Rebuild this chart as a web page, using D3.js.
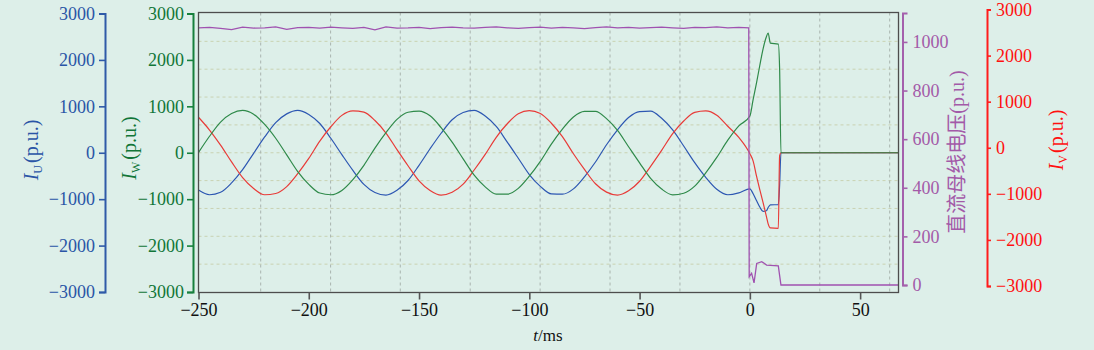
<!DOCTYPE html>
<html>
<head>
<meta charset="utf-8">
<script src="https://cdn.jsdelivr.net/npm/d3@7"></script>
<style>
    body { margin: 0; background: #ddefe9; }
    svg { display: block; }
    text { font-family: "Liberation Serif", "Times New Roman", "Noto Sans CJK SC", serif; }
</style>
</head>
<body>
<div id="chart"></div>
<script>
// one sample every 5 ms up to the fault at t = 0
const timeMs = [-250, -245, -240, -235, -230, -225, -220, -215, -210, -205, -200, -195, -190, -185, -180, -175, -170,
    -165, -160, -155, -150, -145, -140, -135, -130, -125, -120, -115, -110, -105, -100, -95, -90, -85, -80, -75, -70,
    -65, -60, -55, -50, -45, -40, -35, -30, -25, -20, -15, -10, -5, 0];

const iU = [-805, -905, -852, -650, -365, -12, 340, 650, 838, 915, 826, 630, 312, -40, -380, -682, -856, -912, -808,
    -598, -270, 86, 420, 710, 868, 912, 790, 566, 230, -118, -470, -725, -888, -893, -778, -518, -200, 172, 495, 760,
    888, 898, 742, 492, 145, -214, -530, -786, -905, -865, -777];

const iV = [765, 490, 165, -198, -535, -770, -905, -878, -730, -450, -122, 250, 560, 805, 902, 875, 694, 425, 66, -280,
    -605, -812, -912, -852, -676, -372, -35, 333, 625, 840, 906, 846, 636, 346, -22, -360, -668, -848, -912, -820,
    -614, -292, 52, 412, 684, 870, 902, 808, 570, 330, -20];

const iW = [5, 355, 660, 845, 912, 830, 610, 312, -45, -405, -680, -868, -905, -812, -578, -270, 100, 432, 718, 872,
    896, 795, 541, 228, -132, -482, -735, -892, -893, -768, -506, -186, 186, 508, 770, 890, 892, 735, 480, 130, -218,
    -552, -782, -908, -872, -718, -432, -100, 270, 578, 790];

// after the fault
const faultTime = [1.5, 3, 4.5, 6, 7.5, 8.3, 9.3, 12.9, 13.5, 14.1, 67.4];
const faultU = [-885, -1030, -1170, -1265, -1250, -1180, -1125, -1116, -700, 0, 0];
const faultV = [-180, -500, -795, -1075, -1370, -1533, -1620, -1628, -60, 0, 0];
const faultW = [1150, 1500, 1880, 2240, 2500, 2580, 2360, 2340, 1800, 0, 0];

// DC bus voltage, -250 .. -5 ms, then the collapse
const dcBus = [1058, 1060, 1056, 1051, 1061, 1057, 1058, 1062, 1052, 1059, 1060, 1057, 1061, 1058, 1056, 1060, 1050,
    1062, 1057, 1058, 1060, 1055, 1059, 1061, 1058, 1057, 1060, 1062, 1058, 1056, 1059, 1061, 1057, 1060, 1058, 1055,
    1059, 1062, 1058, 1060, 1057, 1059, 1061, 1058, 1056, 1060, 1059, 1062, 1058, 1060];
const dcFaultTime = [-0.5, -0.3, 0.8, 1.9, 3.1, 5.4, 7.6, 12.9, 14.1, 67.4];
const dcFault = [1058, 34, 48, 9, 89, 96, 82, 79, 0, 0];

const xTicks = [-250, -200, -150, -100, -50, 0, 50];
const currentTicks = [-3000, -2000, -1000, 0, 1000, 2000, 3000];
const dcTicks = [0, 200, 400, 600, 800, 1000];
const gridTimes = [-221.8, -190.1, -158.5, -126.8, -95.1, -63.4, -31.7, 0, 31.7, 63.4];
const gridLevels = [-2400, -1800, -1200, -600, 0, 600, 1200, 1800, 2400];

function main() {
    let width = 1094;
    let height = 350;
    let plot = {left: 198.5, right: 898.5, top: 12.5, bottom: 292.5};
    let fmt = d3.format("d");

    let svg = d3.select("#chart").append("svg")
        .attr("width", width)
        .attr("height", height);

    svg.append("rect")
        .attr("width", width)
        .attr("height", height)
        .attr("fill", "#ddefe9");

    let xScale = d3.scaleLinear().domain([-250, 67.4]).range([plot.left, plot.right]);
    let yCur = d3.scaleLinear().domain([-3000, 3000]).range([292, 13.5]);
    let yRed = d3.scaleLinear().domain([-3000, 3000]).range([286, 9.5]);
    let yDc = d3.scaleLinear().domain([0, 1119]).range([285, 13]);

    // grid
    svg.append("g").selectAll("line")
        .data(gridLevels)
        .enter()
        .append("line")
        .attr("x1", plot.left)
        .attr("x2", plot.right)
        .attr("y1", d => yCur(d))
        .attr("y2", d => yCur(d))
        .attr("stroke", "#c9d2b2")
        .attr("stroke-dasharray", "3,3");

    svg.append("g").selectAll("line")
        .data(gridTimes)
        .enter()
        .append("line")
        .attr("x1", d => xScale(d))
        .attr("x2", d => xScale(d))
        .attr("y1", plot.top)
        .attr("y2", plot.bottom)
        .attr("stroke", "#a9b4af")
        .attr("stroke-dasharray", "3,3");

    svg.append("clipPath")
        .attr("id", "clip")
        .append("rect")
        .attr("x", plot.left)
        .attr("y", plot.top)
        .attr("width", plot.right - plot.left)
        .attr("height", plot.bottom - plot.top);

    let lines = svg.append("g").attr("clip-path", "url(#clip)");

    function phase(pre, fault) {
        return pre.map((v, i) => [timeMs[i], v])
            .concat(fault.map((v, i) => [faultTime[i], v]));
    }

    let curLine = d3.line()
        .x(d => xScale(d[0]))
        .y(d => yCur(d[1]))
        .curve(d3.curveMonotoneX);

    let series = [
        {pts: phase(iU, faultU), color: "#2d57b2"},
        {pts: phase(iV, faultV), color: "#e83b38"},
        {pts: phase(iW, faultW), color: "#2f8a4a"}
    ];

    series.forEach(function(s) {
        lines.append("path")
            .attr("d", curLine(s.pts))
            .attr("fill", "none")
            .attr("stroke", s.color)
            .attr("stroke-width", 1.2);
    });

    let dcPts = dcBus.map((v, i) => [timeMs[i], v])
        .concat(dcFault.map((v, i) => [dcFaultTime[i], v]));

    lines.append("path")
        .attr("d", d3.line().x(d => xScale(d[0])).y(d => yDc(d[1]))(dcPts))
        .attr("fill", "none")
        .attr("stroke", "#a052b0")
        .attr("stroke-width", 1.3);

    // frame
    svg.append("rect")
        .attr("x", plot.left)
        .attr("y", plot.top)
        .attr("width", plot.right - plot.left)
        .attr("height", plot.bottom - plot.top)
        .attr("fill", "none")
        .attr("stroke", "#4d4d4d")
        .attr("stroke-width", 1.3);

    function paint(g, color, textColor) {
        g.selectAll("path").attr("stroke", color).attr("stroke-width", 2);
        g.selectAll("line").attr("stroke", color).attr("stroke-width", 1.6);
        g.selectAll("text")
            .attr("fill", textColor)
            .attr("font-size", 18)
            .attr("font-family", '"Liberation Serif", "Times New Roman", serif');
    }

    // x axis
    svg.append("g")
        .attr("transform", "translate(0, " + plot.bottom + ")")
        .call(d3.axisBottom(xScale).tickValues(xTicks).tickFormat(fmt).tickSize(7).tickPadding(4).tickSizeOuter(0))
        .call(g => paint(g, "#555", "#111"))
        .call(g => g.select(".domain").remove());

    // I_U on the far left
    svg.append("g")
        .attr("transform", "translate(105, 0)")
        .call(d3.axisLeft(yCur).tickValues(currentTicks).tickFormat(fmt).tickSize(6).tickPadding(4))
        .call(g => paint(g, "#2f5aa8", "#2a55a6"));

    // I_W next to the plot
    svg.append("g")
        .attr("transform", "translate(193, 0)")
        .call(d3.axisLeft(yCur).tickValues(currentTicks).tickFormat(fmt).tickSize(6).tickPadding(3))
        .call(g => paint(g, "#17803d", "#117638"));

    // DC bus voltage
    svg.append("g")
        .attr("transform", "translate(902.5, 0)")
        .call(d3.axisRight(yDc).tickValues(dcTicks).tickFormat(fmt).tickSize(5).tickPadding(5))
        .call(g => paint(g, "#a460ac", "#a35aa8"));

    // I_V on the far right
    svg.append("g")
        .attr("transform", "translate(987, 0)")
        .call(d3.axisRight(yRed).tickValues(currentTicks).tickFormat(fmt).tickSize(4).tickPadding(5))
        .call(g => paint(g, "#ff1c1c", "#ff1010"));

    function currentTitle(x, y, sub, color) {
        let t = svg.append("text")
            .attr("transform", "translate(" + x + ", " + y + ") rotate(-90)")
            .attr("text-anchor", "middle")
            .attr("fill", color)
            .attr("font-size", 20);
        t.append("tspan").attr("font-style", "italic").text("I");
        t.append("tspan").attr("font-size", 12).attr("dy", 4).text(sub);
        t.append("tspan").attr("dy", -4).attr("dx", 2).text("(p.u.)");
    }

    currentTitle(38, 150, "U", "#2a55a6");
    currentTitle(136, 148, "W", "#117638");
    currentTitle(1063, 140, "V", "#ff1010");

    svg.append("text")
        .attr("transform", "translate(964, 152) rotate(-90)")
        .attr("text-anchor", "middle")
        .attr("fill", "#a35aa8")
        .attr("font-size", 20)
        .text("直流母线电压(p.u.)");

    let xTitle = svg.append("text")
        .attr("x", 548)
        .attr("y", 341)
        .attr("text-anchor", "middle")
        .attr("fill", "#111")
        .attr("font-size", 17);
    xTitle.append("tspan").attr("font-style", "italic").text("t");
    xTitle.append("tspan").text("/ms");
}

main();
</script>
</body>
</html>
